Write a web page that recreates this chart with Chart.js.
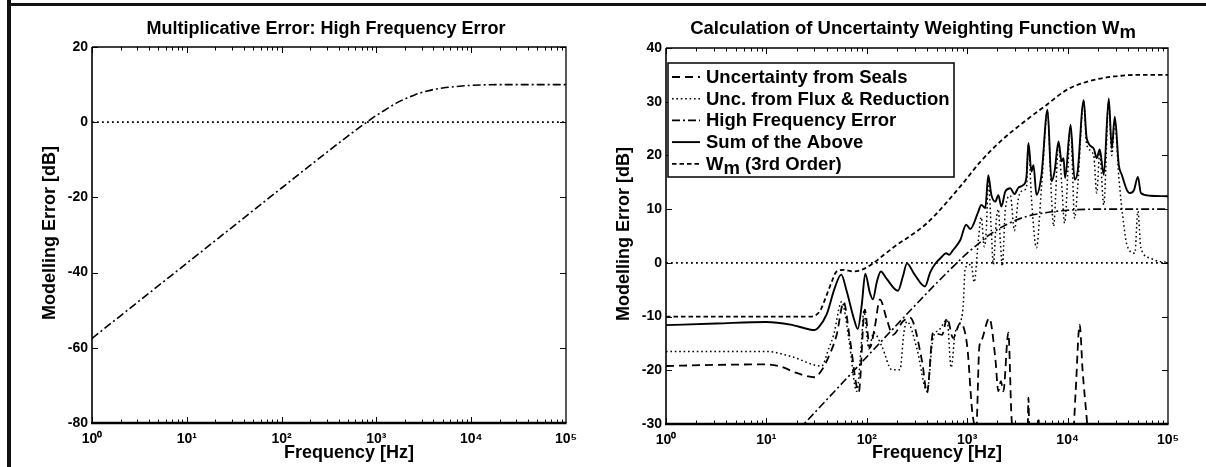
<!DOCTYPE html>
<html><head><meta charset="utf-8">
<script src="https://cdn.jsdelivr.net/npm/chart.js@4.4.0/dist/chart.umd.min.js"></script>
<style>
html,body{margin:0;padding:0;background:#fff;}
#wrap{position:relative;width:1206px;height:467px;overflow:hidden;background:#fff;}
#c1{position:absolute;left:0;top:0;}
#c2{position:absolute;left:600px;top:0;}
.frameL{position:absolute;left:7px;top:0;width:4px;height:467px;background:#111;}
.frameT{position:absolute;left:7px;top:3px;width:1199px;height:3px;background:#111;}
</style></head><body>
<div id="wrap">
<canvas id="c1" width="600" height="467"></canvas>
<canvas id="c2" width="606" height="467"></canvas>
<div class="frameL"></div><div class="frameT"></div>
</div>
<script>
// ---------------- data ----------------
const xTickValues = [1, 10, 100, 1000, 10000, 100000];
const xTickLabels = ['10⁰', '10¹', '10²', '10³', '10⁴', '10⁵'];
const leftYTicks = [-80, -60, -40, -20, 0, 20];
const rightYTicks = [-30, -20, -10, 0, 10, 20, 30, 40];

const leftTitle = 'Multiplicative Error: High Frequency Error';
const rightTitle = 'Calculation of Uncertainty Weighting Function Wm';
const xAxisTitle = 'Frequency [Hz]';
const yAxisTitle = 'Modelling Error [dB]';
const legendLabels = ['Uncertainty from Seals', 'Unc. from Flux & Reduction', 'High Frequency Error', 'Sum of the Above', 'Wm (3rd Order)'];

// High frequency error (same in both panels)
const hfFreq = [1, 10, 100, 300, 500, 800, 1000, 1300, 1600, 2000, 2500, 3000, 4000, 5000, 7000, 10000, 20000, 50000, 100000];
const hfDb   = [-57.5, -37.5, -17.5, -8.0, -3.7, 0.1, 1.8, 3.6, 5.0, 6.2, 7.2, 7.9, 8.7, 9.1, 9.5, 9.8, 10, 10, 10];

// 0 dB reference line
const zeroFreq = [1, 100000];
const zeroDb = [0, 0];

// Wm (3rd order)
const wmFreq = [1, 10, 27, 34, 40, 45, 50, 59, 74, 89, 117, 135, 182, 398, 851, 1350, 2140, 3890, 6170, 9770, 15500, 28800, 56200, 100000];
const wmDb   = [-10, -10, -10, -9, -5.9, -3.4, -1.6, -1.3, -1.6, -1.3, 0, 0.9, 2.8, 7.4, 14.2, 18.8, 22.6, 26.6, 29.4, 32.2, 33.7, 34.7, 35, 35];

// Uncertainty from seals
const sealsFreq = [1, 3.16, 10, 13.8, 20, 30.2, 35.5, 39.8, 50.1, 58.9, 67.6, 83.2, 95.5, 107, 120, 135, 158, 182, 229, 269, 355, 398, 457, 562, 631, 724, 851, 1000, 1122, 1230, 1318, 1380, 1660, 1905, 2042, 2163, 2291, 2570, 2754, 2884, 3981, 4074, 4169, 5012, 5129, 5248, 11220, 12023, 13183, 14125, 15488, 16218, 100000];
const sealsDb   = [-19.2, -19.0, -18.9, -19.3, -20.5, -21.3, -20, -18.3, -13.4, -7.3, -14, -24.0, -8.7, -15.8, -12, -6.8, -10.5, -13.4, -10.9, -10.2, -18.3, -24.2, -13, -13.4, -10.3, -14, -11.2, -15.5, -27.6, -31, -15.8, -14.6, -10.3, -17.7, -23.9, -22, -23.9, -13, -28.2, -33, -33, -25.1, -33, -33, -28.8, -33, -33, -24, -11.5, -20.2, -28.8, -33, -33];

// Uncertainty from flux & reduction
const fluxFreq = [1, 10, 17.4, 35.5, 41.7, 46.8, 56.2, 66.1, 79.4, 89.1, 93.3, 105, 117, 141, 178, 214, 234, 251, 316, 398, 457, 525, 631, 692, 759, 851, 912, 955, 1096, 1175, 1288, 1380, 1479, 1549, 1622, 1738, 1820, 1950, 2042, 2138, 2239, 2399, 2692, 2951, 3236, 3631, 3890, 4074, 4365, 4898, 5495, 6310, 6918, 7244, 8128, 8710, 9333, 10715, 11749, 12589, 14454, 15488, 18197, 19498, 20893, 22909, 25704, 27542, 29512, 32359, 36308, 38905, 46774, 50119, 53703, 66069, 79433, 100000];
const fluxDb   = [-16.5, -16.5, -17.4, -19.2, -16, -13.4, -7.2, -14, -23.9, -14, -9, -16, -13, -15.5, -19.9, -19.9, -13, -10.9, -16, -23.9, -14, -12.5, -10.6, -19.5, -13, -11.2, -8, -1, -0.3, -3.6, 4, 8.5, 3, 6, 15.5, 6, -0.3, 8, 10, 4, -0.6, 10, 12.5, 6, 12, 13.5, 14, 22, 12, 2.8, 14, 28, 12, 6.8, 22, 15, 7.4, 25, 8.3, 14, 30, 22, 20, 13, 20.5, 10.8, 30, 20, 26.5, 16, 7, 3.4, 1.8, 9.6, 2.8, 0.9, 0.3, 0.1];

// Sum of the above
const sumFreq = [1, 3.16, 10, 17.4, 26.9, 30.2, 33.1, 39.8, 47.9, 55.6, 63.1, 74.1, 81.3, 89.1, 96.6, 107, 115, 126, 138, 158, 204, 229, 251, 295, 380, 427, 479, 550, 617, 661, 724, 851, 977, 1072, 1288, 1380, 1514, 1622, 1738, 1905, 2042, 2188, 2399, 2692, 2951, 3236, 3631, 3890, 4074, 4365, 4571, 4898, 5495, 6310, 6918, 7413, 8128, 8710, 9120, 9441, 10715, 11749, 12589, 14454, 15488, 18197, 19498, 20893, 22909, 25704, 27542, 29512, 32359, 34674, 38905, 41687, 45709, 50119, 53703, 66069, 100000];
const sumDb   = [-11.6, -11.3, -11.0, -11.5, -12.4, -12.5, -12.0, -9.6, -4.7, -2.2, -5.3, -10.3, -12.3, -7.8, -2.0, -5.5, -6.8, -3.5, -1.6, -3.0, -5.2, -2.5, -0.1, -2.0, -4.4, -1.8, -0.2, 1.0, 1.8, 1.5, 2.4, 4.2, 7.1, 6.3, 9.5, 10.8, 10.2, 16.3, 12.7, 11.4, 12.6, 10.5, 13.3, 13.9, 12.8, 14.0, 14.5, 16.0, 22.3, 17.0, 18.2, 12.7, 16.4, 28.5, 15.2, 17.0, 22.6, 18.9, 19.5, 15.8, 25.7, 15.5, 17.0, 30.3, 23.2, 21.3, 19.5, 21.1, 16.4, 30.6, 21.3, 27.2, 18.2, 16.4, 13.6, 13.0, 13.5, 16.0, 13.0, 12.5, 12.4];

// ---------------- helpers ----------------
const FONT = '"Liberation Sans", Arial, Helvetica, sans-serif';
const pts = (f, v) => f.map((x, i) => ({ x: x, y: v[i] }));

const STYLE = {
  seals: { dash: [8, 5], width: 1.8 },
  flux:  { dash: [1.6, 2.8], width: 1.5 },
  hf:    { dash: [8, 3, 2, 3], width: 1.6 },
  sum:   { dash: [], width: 1.9 },
  wm:    { dash: [4.5, 3], width: 1.8 },
  zero:  { dash: [1.8, 3.2], width: 1.7 }
};

function ds(label, f, v, st, inLegend) {
  return {
    label: label, data: pts(f, v), borderColor: '#000', backgroundColor: '#000',
    borderWidth: st.width, borderDash: st.dash, pointRadius: 0, fill: false,
    cubicInterpolationMode: 'monotone', inLegend: inLegend
  };
}

function drawRich(ctx, text, x, y, align, size) {
  const i = text.indexOf('Wm');
  const parts = i < 0 ? [[text, 0]] : [[text.slice(0, i + 1), 0], ['m', size * 0.2], [text.slice(i + 2), 0]];
  ctx.font = 'bold ' + size + 'px ' + FONT;
  const widths = parts.map(p => ctx.measureText(p[0]).width);
  const total = widths.reduce((a, b) => a + b, 0);
  let cx = align === 'center' ? x - total / 2 : x;
  ctx.textAlign = 'left';
  parts.forEach((p, k) => { ctx.fillText(p[0], cx, y + p[1]); cx += widths[k]; });
}

function decor(cfg) {
  return {
    id: 'decor',
    afterDraw(chart) {
      const ctx = chart.ctx, a = chart.chartArea, xs = chart.scales.x, ys = chart.scales.y;
      ctx.save();
      ctx.strokeStyle = '#000';
      ctx.fillStyle = '#000';
      ctx.setLineDash([]);
      // inward tick marks
      ctx.lineWidth = 1;
      ctx.beginPath();
      for (let d = 0; d < 5; d++) {
        for (let k = 1; k <= 9; k++) {
          const px = Math.round(xs.getPixelForValue(k * Math.pow(10, d))) + 0.5;
          const len = k === 1 ? 6 : 3.5;
          ctx.moveTo(px, a.bottom); ctx.lineTo(px, a.bottom - len);
          ctx.moveTo(px, a.top); ctx.lineTo(px, a.top + len);
        }
      }
      ys.ticks.forEach(t => {
        const py = Math.round(ys.getPixelForValue(t.value)) + 0.5;
        ctx.moveTo(a.left, py); ctx.lineTo(a.left + 6, py);
        ctx.moveTo(a.right, py); ctx.lineTo(a.right - 6, py);
      });
      ctx.stroke();
      // axes box
      ctx.lineWidth = 1.3;
      ctx.beginPath();
      ctx.moveTo(a.left, a.top); ctx.lineTo(a.right, a.top); ctx.lineTo(a.right, a.bottom);
      ctx.stroke();
      ctx.lineWidth = 1.6;
      ctx.beginPath(); ctx.moveTo(a.left, a.top); ctx.lineTo(a.left, a.bottom + 1); ctx.stroke();
      ctx.lineWidth = 2.4;
      ctx.beginPath(); ctx.moveTo(a.left - 1, a.bottom); ctx.lineTo(a.right + 0.6, a.bottom); ctx.stroke();

      // title
      ctx.textBaseline = 'alphabetic';
      drawRich(ctx, cfg.title, cfg.titleX, 34, 'center', cfg.titleSize);
      // x axis title
      ctx.font = 'bold 18px ' + FONT;
      ctx.textAlign = 'center';
      ctx.fillText(xAxisTitle, (a.left + a.right) / 2 + 20, 458);
      // y axis title
      ctx.save();
      ctx.translate(a.left - 42, (a.top + a.bottom) / 2 - 2);
      ctx.rotate(-Math.PI / 2);
      ctx.textAlign = 'center';
      ctx.textBaseline = 'middle';
      ctx.fillText(yAxisTitle, 0, 0);
      ctx.restore();

      // legend
      if (cfg.legend) {
        const L = cfg.legend;
        ctx.fillStyle = '#fff';
        ctx.fillRect(L.x, L.y, L.w, L.h);
        ctx.lineWidth = 1.5;
        ctx.strokeStyle = '#000';
        ctx.strokeRect(L.x, L.y, L.w, L.h);
        const items = chart.data.datasets.filter(d => d.inLegend);
        items.forEach((d, i) => {
          const yy = L.y + 14 + i * L.row;
          ctx.setLineDash(d.borderDash);
          ctx.lineWidth = d.borderWidth;
          ctx.beginPath(); ctx.moveTo(L.x + 4, yy); ctx.lineTo(L.x + 32, yy); ctx.stroke();
          ctx.setLineDash([]);
          ctx.fillStyle = '#000';
          ctx.textBaseline = 'middle';
          drawRich(ctx, d.label, L.x + 38, yy + 1, 'left', 18.5);
        });
      }
      ctx.restore();
    }
  };
}

function options(yTicks, pad) {
  return {
    responsive: false, animation: false, devicePixelRatio: 1,
    layout: { padding: pad },
    plugins: { legend: { display: false }, title: { display: false }, tooltip: { enabled: false } },
    scales: {
      x: {
        type: 'logarithmic', min: 1, max: 100000,
        grid: { display: false, drawTicks: false }, border: { display: false },
        afterBuildTicks: s => { s.ticks = xTickValues.map(v => ({ value: v })); },
        afterFit: s => { s.height = 34; },
        ticks: {
          autoSkip: false, maxRotation: 0, minRotation: 0, padding: 8, color: '#000',
          font: { family: FONT, size: 14, weight: 'bold' },
          callback: (v) => { const i = xTickValues.indexOf(v); return i < 0 ? '' : xTickLabels[i]; }
        }
      },
      y: {
        min: yTicks[0], max: yTicks[yTicks.length - 1],
        grid: { display: false, drawTicks: false }, border: { display: false },
        afterBuildTicks: s => { s.ticks = yTicks.map(v => ({ value: v })); },
        afterFit: s => { s.width = 40; },
        ticks: { padding: 4, color: '#000', font: { family: FONT, size: 14, weight: 'bold' },
                 callback: v => String(v) }
      }
    }
  };
}

// ---------------- left chart ----------------
new Chart(document.getElementById('c1'), {
  type: 'line',
  data: { datasets: [
    ds('High Frequency Error', hfFreq, hfDb, STYLE.hf, false),
    ds('0 dB', zeroFreq, zeroDb, STYLE.zero, false)
  ] },
  options: options(leftYTicks, { left: 52, right: 34, top: 47, bottom: 10 }),
  plugins: [decor({ title: leftTitle, titleX: 326, titleSize: 18 })]
});

// ---------------- right chart ----------------
new Chart(document.getElementById('c2'), {
  type: 'line',
  data: { datasets: [
    ds('0 dB', zeroFreq, zeroDb, STYLE.zero, false),
    ds(legendLabels[0], sealsFreq, sealsDb, STYLE.seals, true),
    ds(legendLabels[1], fluxFreq, fluxDb, STYLE.flux, true),
    ds(legendLabels[2], hfFreq, hfDb, STYLE.hf, true),
    ds(legendLabels[3], sumFreq, sumDb, STYLE.sum, true),
    ds(legendLabels[4], wmFreq, wmDb, STYLE.wm, true)
  ] },
  options: options(rightYTicks, { left: 26, right: 38, top: 48, bottom: 9 }),
  plugins: [decor({ title: rightTitle, titleX: 313, titleSize: 18.5, legend: { x: 68, y: 63, w: 286, h: 114, row: 21.7 } })]
});
</script>
</body></html>
